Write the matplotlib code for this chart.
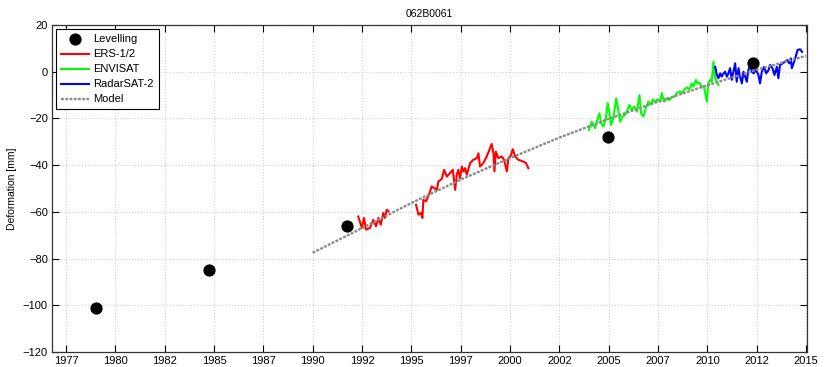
import matplotlib
matplotlib.use("Agg")
import matplotlib.pyplot as plt
import numpy as np

plt.rcParams['font.family'] = ['Liberation Sans', 'DejaVu Sans']

title = "062B0061"
ylabel = "Deformation [mm]"

# Levelling points
lev_t = [1979.0, 1984.76, 1991.73, 2004.95, 2012.33]
lev_v = [-101.3, -85.1, -66.1, -28.0, 3.9]

# ERS-1/2 (two segments)
ers1_t = [1992.31, 1992.49, 1992.6, 1992.7, 1992.9, 1993.07, 1993.21, 1993.33, 1993.45,
          1993.58, 1993.67, 1993.75, 1993.84]
ers1_v = [-62.0, -66.9, -62.6, -67.6, -66.9, -63.4, -66.2, -62.6, -65.5,
          -60.5, -62.6, -59.1, -59.8]
ers2_t = [1995.24, 1995.36, 1995.49, 1995.56, 1995.61, 1995.75, 1995.81, 1995.92, 1996.03,
          1996.15, 1996.29, 1996.37, 1996.54, 1996.66, 1996.8, 1996.96, 1997.1, 1997.22,
          1997.3, 1997.38, 1997.47, 1997.56, 1997.64, 1997.72, 1997.81, 1997.98, 1998.14,
          1998.32, 1998.4, 1998.48, 1998.65, 1998.82, 1998.99, 1999.07, 1999.16, 1999.21,
          1999.28, 1999.41, 1999.58, 1999.7, 1999.84, 1999.92, 2000.04, 2000.14, 2000.26,
          2000.42, 2000.68, 2000.81, 2000.93]
ers2_v = [-57.0, -61.2, -60.5, -62.6, -54.8, -55.5, -54.1, -52.0, -49.1,
          -49.8, -50.6, -47.0, -46.0, -42.0, -44.9, -43.4, -42.0, -50.6,
          -44.1, -42.0, -45.6, -40.6, -42.7, -41.3, -44.1, -39.1, -37.7,
          -37.0, -34.9, -40.6, -39.1, -36.3, -32.7, -30.9, -34.9, -42.7,
          -34.2, -37.0, -36.3, -37.7, -42.7, -37.0, -36.0, -33.2, -36.3,
          -37.7, -38.5, -39.1, -41.3]

# ENVISAT
env_t = [2004.0, 2004.14, 2004.23, 2004.31, 2004.43, 2004.53, 2004.62, 2004.73, 2004.85,
         2004.95, 2005.04, 2005.12, 2005.24, 2005.38, 2005.49, 2005.58, 2005.7, 2005.83,
         2005.95, 2006.05, 2006.17, 2006.29, 2006.43, 2006.56, 2006.64, 2006.76, 2006.9,
         2007.01, 2007.14, 2007.24, 2007.35, 2007.47, 2007.61, 2007.69, 2007.81, 2007.95,
         2008.08, 2008.2, 2008.33, 2008.45, 2008.59, 2008.71, 2008.82, 2008.96, 2009.09,
         2009.21, 2009.3, 2009.42, 2009.5, 2009.6, 2009.72, 2009.83, 2009.97, 2010.05,
         2010.14, 2010.22, 2010.31, 2010.38, 2010.44, 2010.56]
env_v = [-24.9, -21.4, -22.8, -24.2, -20.6, -17.8, -22.1, -23.5, -20.2,
         -13.5, -17.8, -22.8, -19.9, -11.4, -16.4, -21.4, -19.2, -18.5,
         -16.4, -14.2, -16.4, -15.0, -17.1, -10.0, -17.8, -19.2, -15.0,
         -12.8, -14.0, -11.8, -13.1, -11.8, -12.8, -9.2, -12.8, -11.4,
         -12.1, -10.9, -10.7, -9.2, -8.5, -9.2, -7.8, -6.7, -7.5,
         -5.0, -6.4, -3.5, -5.0, -4.7, -6.4, -6.4, -12.8, -5.0,
         -3.5, -4.3, 4.3, -2.1, -3.5, -5.7]

# RadarSAT-2
rs2_t = [2010.4, 2010.48, 2010.56, 2010.65, 2010.73, 2010.82, 2010.9, 2010.99, 2011.07,
         2011.15, 2011.24, 2011.32, 2011.41, 2011.49, 2011.58, 2011.66, 2011.75, 2011.83,
         2011.92, 2012.0, 2012.08, 2012.17, 2012.26, 2012.34, 2012.47, 2012.59, 2012.67,
         2012.76, 2012.88, 2012.98, 2013.1, 2013.18, 2013.3, 2013.4, 2013.52, 2013.6,
         2013.68, 2013.82, 2013.94, 2014.05, 2014.15, 2014.23, 2014.28, 2014.4, 2014.5,
         2014.57, 2014.7, 2014.8]
rs2_v = [2.1, -1.4, -2.8, -0.7, -2.1, -0.7, 0.0, -2.1, -0.7,
         1.5, -3.5, 0.0, 3.6, -4.3, 1.5, -2.1, -5.0, 0.0,
         -2.1, -4.3, 0.7, 2.9, 0.0, -0.7, 0.7, -1.4, -5.0,
         0.0, 2.1, -0.7, 0.7, 2.9, 1.5, -1.4, 2.1, -2.8,
         2.9, 3.6, 4.3, 5.0, 3.6, 5.7, 1.5, 4.3, 7.1,
         9.3, 9.6, 8.5]

# Model
model_t = [1990.0, 1992.5, 1995.0, 1997.5, 2000.0, 2002.5, 2005.0, 2007.5, 2010.0, 2012.5, 2015.0]
model_v = [-77.5, -67.0, -56.2, -46.2, -37.0, -28.2, -20.2, -12.8, -5.8, 0.8, 6.8]

xtick_pos = [1977.5 + 2.5 * k for k in range(16)]
xtick_labels = ["1977", "1980", "1982", "1985", "1987", "1990", "1992", "1995", "1997",
                "2000", "2002", "2005", "2007", "2010", "2012", "2015"]
ytick_pos = [-120, -100, -80, -60, -40, -20, 0, 20]

fig = plt.figure(figsize=(8.28, 3.67), dpi=100)
ax = fig.add_axes([52 / 828, 15 / 367, 755 / 828, 327 / 367])

ax.plot(model_t, model_v, color='#8a8a8a', lw=1.7, ls=(0, (1.2, 0.6)), zorder=4, label='Model')
ax.plot(ers1_t, ers1_v, color='#ff0000', lw=1.5, zorder=3, label='ERS-1/2')
ax.plot(ers2_t, ers2_v, color='#ff0000', lw=1.5, zorder=3)
ax.plot(env_t, env_v, color='#00ff00', lw=1.5, zorder=3, label='ENVISAT')
ax.plot(rs2_t, rs2_v, color='#0000ff', lw=1.5, zorder=3, label='RadarSAT-2')
ax.plot(lev_t, lev_v, 'o', color='black', ms=7.8, zorder=5, label='Levelling')

ax.set_xlim(1976.79, 2015.05)
ax.set_ylim(-120, 20)
ax.set_xticks(xtick_pos)
ax.set_xticklabels(xtick_labels)
ax.set_yticks(ytick_pos)
ax.tick_params(direction='in', length=5, width=0.8, top=True, right=True,
               labelsize=8, colors='black', pad=3)
ax.grid(True, color='#d0d0d0', ls=':', lw=0.8)
for s in ax.spines.values():
    s.set_linewidth(0.9)
    s.set_color('#333333')

ax.set_title(title, fontsize=7.5, pad=6)
ax.set_ylabel(ylabel, fontsize=7.5, labelpad=4)

h, l = ax.get_legend_handles_labels()
order = ['Levelling', 'ERS-1/2', 'ENVISAT', 'RadarSAT-2', 'Model']
hh = [h[l.index(o)] for o in order]
leg = ax.legend(hh, order, loc='upper left', fontsize=8, frameon=True, fancybox=False,
                edgecolor='black', framealpha=1, borderaxespad=0.4, handlelength=2.5,
                handletextpad=0.35, labelspacing=0.45, borderpad=0.45)
leg.get_frame().set_linewidth(0.8)

fig.savefig('out.png', dpi=100)
